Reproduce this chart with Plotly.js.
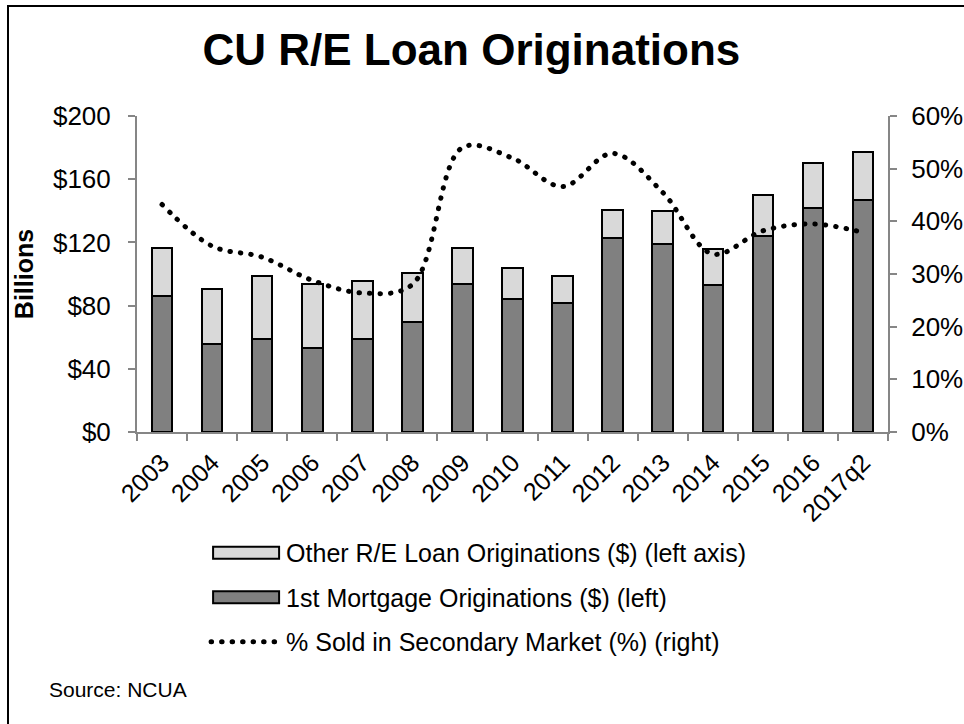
<!DOCTYPE html>
<html>
<head>
<meta charset="utf-8">
<script src="https://cdn.plot.ly/plotly-3.0.1.min.js"></script>
<style>
  body { margin: 0; background: #fff; }
  #myPlot { position: absolute; left: 0; top: 0; width: 964px; height: 724px; }
  #frame { position: absolute; left: 7px; top: 5px; right: 0; bottom: 0;
           border-left: 2px solid #000; border-top: 2px solid #000; pointer-events: none; }
  path.js-line { stroke-linecap: round; }
</style>
</head>
<body>
<div id="myPlot"></div>
<div id="frame"></div>
<script>
// values ($ billions, share sold)
const years = ['2003', '2004', '2005', '2006', '2007', '2008', '2009', '2010',
  '2011', '2012', '2013', '2014', '2015', '2016', '2017q2'];
const first_mortgage = [86.3, 55.9, 59.0, 52.9, 58.8, 69.7, 93.9, 84.1,
  81.7, 122.9, 119.1, 93.3, 124.2, 141.8, 146.8];
const other_re = [30.1, 34.4, 39.9, 40.8, 37.0, 30.7, 22.7, 19.5,
  17.0, 17.6, 20.6, 22.5, 26.0, 28.6, 30.7];
const pct_sold = [0.432, 0.353, 0.332, 0.288, 0.264, 0.28, 0.54, 0.52,
  0.466, 0.529, 0.455, 0.338, 0.382, 0.395, 0.379];

const font_family = 'Liberation Sans, Arial, sans-serif';
const axis_grey = '#868686';

const trace_first = {
  x: years,
  y: first_mortgage,
  type: 'bar',
  name: '1st Mortgage Originations ($) (left)',
  marker: { color: '#808080', line: { color: '#000', width: 2 } },
  legendgroup: 'b',
  legendrank: 2,
};

const trace_other = {
  x: years,
  y: other_re,
  type: 'bar',
  name: 'Other R/E Loan Originations ($) (left axis)',
  marker: { color: '#d9d9d9', line: { color: '#000', width: 2 } },
  legendgroup: 'a',
  legendrank: 1,
};

const trace_pct = {
  x: years,
  y: pct_sold,
  yaxis: 'y2',
  type: 'scatter',
  mode: 'lines',
  name: '% Sold in Secondary Market (%) (right)',
  line: { color: '#000', width: 5, dash: '0.5px,10px', shape: 'spline', smoothing: 1 },
  legendgroup: 'c',
  legendrank: 3,
};

const layout = {
  width: 964,
  height: 724,
  paper_bgcolor: '#fff',
  plot_bgcolor: '#fff',
  font: { family: font_family, size: 26, color: '#000' },
  margin: { l: 137, r: 76, t: 116, b: 292 },
  barmode: 'stack',
  bargap: 0.59,
  showlegend: true,
  title: {
    text: '<b>CU R/E Loan Originations</b>',
    font: { size: 44, family: font_family, color: '#000' },
    xref: 'container', x: 0.489, xanchor: 'center',
    yref: 'container', y: 0.932, yanchor: 'middle',
  },
  xaxis: {
    type: 'category',
    tickangle: -45,
    tickson: 'boundaries',
    ticks: 'outside', ticklen: 7, tickwidth: 2, tickcolor: axis_grey,
    showline: true, linecolor: axis_grey, linewidth: 2,
    showgrid: false,
    tickfont: { size: 25 },
    ticklabelstandoff: 4,
  },
  yaxis: {
    range: [0, 200],
    dtick: 40,
    tickprefix: '$',
    ticks: 'outside', ticklen: 7, tickwidth: 2, tickcolor: axis_grey,
    showline: true, linecolor: axis_grey, linewidth: 2,
    showgrid: false, zeroline: false,
    ticklabelstandoff: 12,
    title: { text: '<b>Billions</b>', font: { size: 25 }, standoff: 12 },
  },
  yaxis2: {
    overlaying: 'y',
    side: 'right',
    range: [0, 0.6],
    dtick: 0.1,
    tickformat: '.0%',
    ticks: 'outside', ticklen: 7, tickwidth: 2, tickcolor: axis_grey,
    showline: true, linecolor: axis_grey, linewidth: 2,
    showgrid: false, zeroline: false,
    ticklabelstandoff: 9,
  },
  legend: {
    orientation: 'v',
    traceorder: 'grouped',
    tracegroupgap: 9,
    itemwidth: 70,
    font: { size: 25 },
    x: 0.092, xanchor: 'left',
    y: -0.31, yanchor: 'top',
    bgcolor: 'rgba(0,0,0,0)',
  },
  annotations: [{
    text: 'Source: NCUA',
    xref: 'paper', yref: 'paper',
    x: -0.12, xanchor: 'left',
    y: -0.814, yanchor: 'middle',
    showarrow: false,
    font: { size: 21 },
  }],
};

function widen_swatches() {
  // stretch the small legend squares into long bars like the original
  document.querySelectorAll('#myPlot .legend .legendpoints path').forEach(function (p) {
    p.setAttribute('d', 'M-33,6H33V-6H-33Z');
  });
}

Plotly.newPlot('myPlot', [trace_first, trace_other, trace_pct], layout, { staticPlot: true })
  .then(function () {
    widen_swatches();
    setTimeout(widen_swatches, 50);
  });
</script>
</body>
</html>
